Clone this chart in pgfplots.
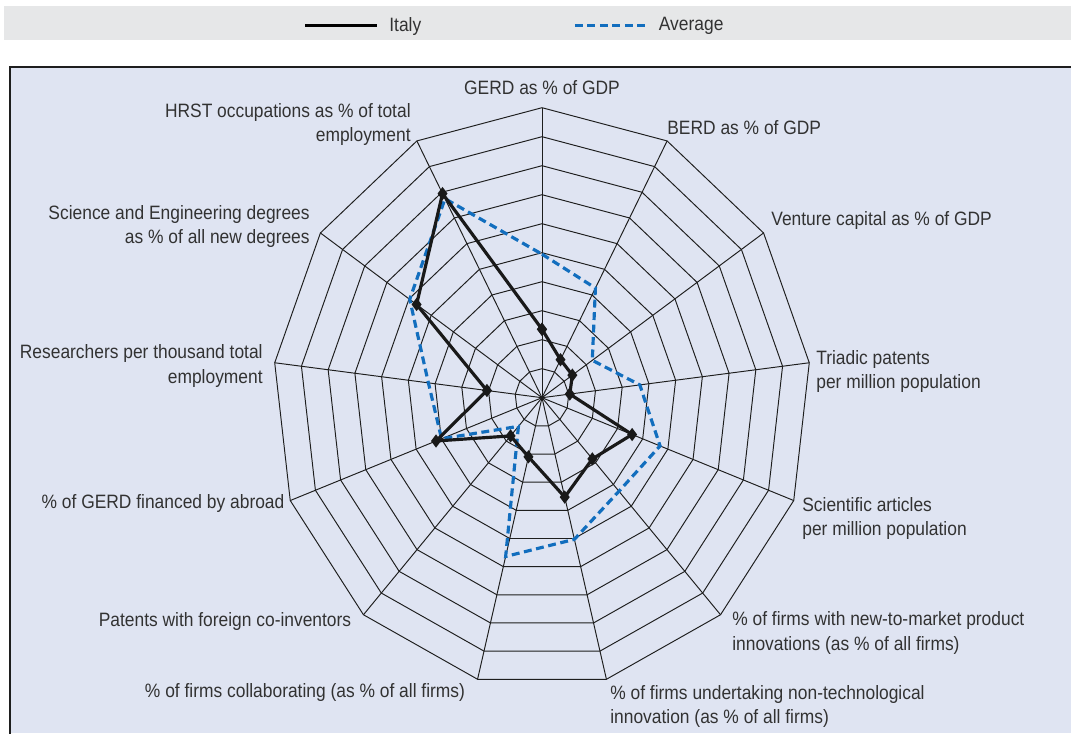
\documentclass[border=0pt]{standalone}
\usepackage{pgfplots}
\pgfplotsset{compat=1.18}
\usepackage{pgfplotstable}
\usepgfplotslibrary{polar}
\usepackage{fontspec}
\setmainfont{Liberation Sans}[FakeStretch=0.9]

\definecolor{panel}{RGB}{223,228,242}
\definecolor{legbox}{RGB}{230,231,232}
\definecolor{oecdblue}{RGB}{18,110,190}
\definecolor{txt}{RGB}{50,50,50}
\definecolor{gridc}{RGB}{30,30,30}

% values in ring units (0-10)
% spoke angles: GERD on top, then clockwise 360/13 apart
\pgfplotstableread{
a        italy  avg
90       2.36   4.95
62.3077  1.48   4.27
34.6154  1.37   2.27
6.9231   1.04   3.66
339.2308 3.58   4.69
311.5385 2.82   4.31
283.8462 3.53   5.03
256.1538 2.10   5.64
228.4615 1.76   1.32
200.7692 4.21   3.99
173.0769 2.06   4.25
145.3846 5.66   5.97
117.6923 7.95   7.75
90       2.36   4.95
}\radar

\begin{document}
\begin{tikzpicture}[font=\fontsize{11}{14.2}\selectfont]
\path[use as bounding box] (-10.84,-6.706) rectangle (10.58,7.954);
% legend strip and panel
\fill[legbox] (-10.76,7.154) rectangle (10.58,7.834);
\fill[panel] (-10.64,-6.706) rectangle (10.58,6.614);
\draw[gridc, line width=1.6pt] (-10.64,-6.8) -- (-10.64,6.614) -- (10.7,6.614);

\begin{polaraxis}[
    at={(0,0)}, anchor=center,
    scale only axis, width=10.77cm, height=11.6cm,
    xmin=0, xmax=360, ymin=0, ymax=10,
    hide axis, clip=false,
    gridline/.style={gridc, line width=0.55pt},
    legend style={at={(0.047,1.142)}, anchor=west, draw=none, fill=none,
        legend columns=2, text=txt,
        /tikz/every even column/.append style={column sep=2.97cm},
        /tikz/every odd column/.append style={column sep=0.14cm}},
    legend image code/.code={\draw[#1] (0cm,0cm) -- (1.44cm,0cm);},
]
\pgfplotsinvokeforeach{1,...,10}{
    \addplot[gridline, forget plot] table[x=a, y expr=#1] {\radar};
}
\pgfplotsinvokeforeach{90,62.3077,34.6154,6.9231,339.2308,311.5385,283.8462,256.1538,228.4615,200.7692,173.0769,145.3846,117.6923}{
    \addplot[gridline, forget plot] coordinates {(#1,0) (#1,10)};
}

\addlegendimage{black, line width=1.8pt}
\addlegendentry{Italy}
\addlegendimage{oecdblue, line width=1.8pt, dash pattern=on 4.5pt off 2.6pt}
\addlegendentry{Average}

\addplot[oecdblue, line width=1.8pt, dash pattern=on 4.5pt off 2.6pt, forget plot]
    table[x=a, y=avg] {\radar};
\addplot[black!90, line width=1.8pt, mark=diamond*, mark size=2.3pt, forget plot]
    table[x=a, y=italy] {\radar};
\end{polaraxis}

% axis labels
\begin{scope}[every node/.style={text=txt, inner sep=0pt}]
\node[anchor=center] at (0,6.194) {GERD as \% of GDP};
\node[anchor=west] at (2.5,5.394) {BERD as \% of GDP};
\node[anchor=west] at (4.58,3.534) {Venture capital as \% of GDP};
\node[anchor=west, align=left] at (5.48,0.524) {Triadic patents\\per million population};
\node[anchor=west, align=left] at (5.2,-2.416) {Scientific articles\\per million population};
\node[anchor=west, align=left] at (3.8,-4.706) {\% of firms with new-to-market product\\innovations (as \% of all firms)};
\node[anchor=west, align=left] at (1.36,-6.176) {\% of firms undertaking non-technological\\innovation (as \% of all firms)};
\node[anchor=center] at (-4.74,-5.886) {\% of firms collaborating (as \% of all firms)};
\node[anchor=center] at (-6.34,-4.466) {Patents with foreign co-inventors};
\node[anchor=center] at (-7.58,-2.106) {\% of GERD financed by abroad};
\node[anchor=east, align=right] at (-5.58,0.634) {Researchers per thousand total\\employment};
\node[anchor=east, align=right] at (-4.64,3.424) {Science and Engineering degrees\\as \% of all new degrees};
\node[anchor=east, align=right] at (-2.62,5.464) {HRST occupations as \% of total\\employment};
\end{scope}
\end{tikzpicture}
\end{document}
